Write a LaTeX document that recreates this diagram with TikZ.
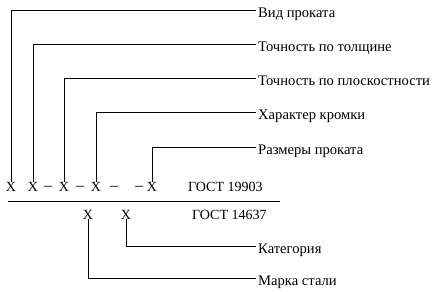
\documentclass[tikz,border=0pt]{standalone}
\usepackage{fontspec}
\setmainfont{Liberation Serif}
\usetikzlibrary{positioning}
\tikzset{
  xsym/.style={anchor=base, inner sep=0pt, font=\fontsize{14}{16}\selectfont},
  dsym/.style={anchor=base, inner sep=0pt, font=\fontsize{16}{18}\selectfont},
  lbl/.style={anchor=base west, inner sep=0pt, font=\fontsize{14.6}{16}\selectfont},
  lead/.style={draw=black, line width=1pt}
}

\begin{document}
\begin{tikzpicture}[x=1pt, y=-1pt]
  \useasboundingbox (0,0) rectangle (437,292);
  % upper row: ГОСТ 19903
  \node[xsym] (xa) at (11,191) {X};
  \node[xsym] (xb) at (33,191) {X};
  \node[xsym] (xc) at (64,191) {X};
  \node[xsym] (xd) at (96,191) {X};
  \node[xsym] (xe) at (152,191) {X};
  \node[dsym] (da) at (48,190) {–};
  \node[dsym] (db) at (80,190) {–};
  \node[dsym] (dc) at (114,190) {–};
  \node[dsym] (dd) at (139,190) {–};
  \node[xsym, anchor=base west] (gosta) at (188,191) {ГОСТ 19903};

  \node[lbl] (vid)  at (258,17)  {Вид проката};
  \node[lbl] (tol)  at (258,51)  {Точность по толщине};
  \node[lbl] (plo)  at (258,85)  {Точность по плоскостности};
  \node[lbl] (kro)  at (258,119) {Характер кромки};
  \node[lbl] (raz)  at (258,154) {Размеры проката};
  \draw[lead] (xa.north) |- ([xshift=-2pt,yshift=7pt]vid.base west);
  \draw[lead] (xb.north) |- ([xshift=-2pt,yshift=7pt]tol.base west);
  \draw[lead] (xc.north) |- ([xshift=-2pt,yshift=7pt]plo.base west);
  \draw[lead] (xd.north) |- ([xshift=-2pt,yshift=7pt]kro.base west);
  \draw[lead] (xe.north) |- ([xshift=-2pt,yshift=7pt]raz.base west);

  % rule
  \coordinate (rl) at (8,201);
  \coordinate (rr) at (280,201);
  \draw[lead] (rl) -- (rr);

  % lower row: ГОСТ 14637
  \node[xsym] (ya) at (88,219) {X};
  \node[xsym] (yb) at (126,219) {X};
  \node[xsym, anchor=base west] (gostb) at (192,219) {ГОСТ 14637};
  \node[lbl] (kat) at (258,253) {Категория};
  \node[lbl] (mar) at (258,285) {Марка стали};
  \draw[lead] (yb.south) |- ([xshift=-2pt,yshift=7pt]kat.base west);
  \draw[lead] (ya.south) |- ([xshift=-2pt,yshift=7pt]mar.base west);
\end{tikzpicture}
\end{document}
